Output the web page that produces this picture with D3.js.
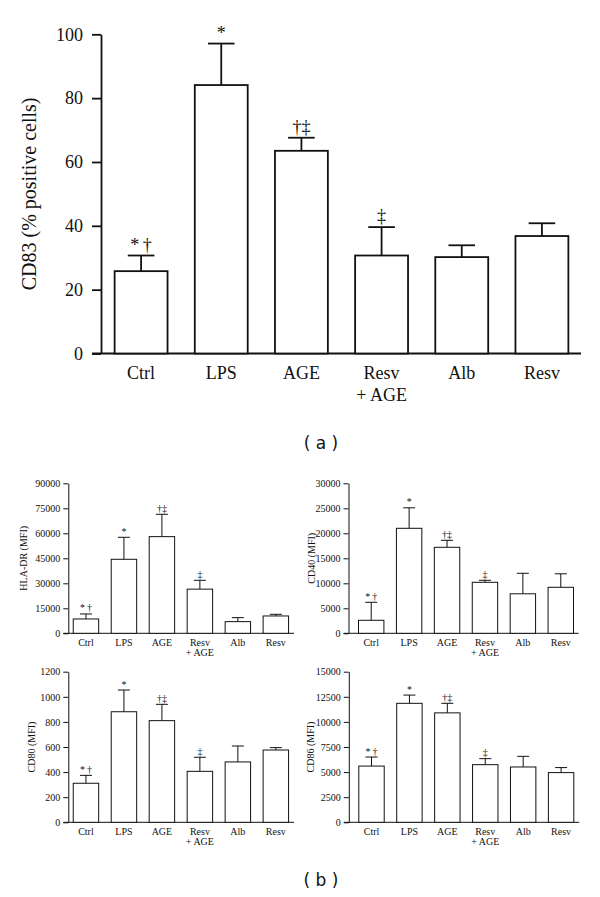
<!DOCTYPE html>
<html>
<head>
<meta charset="utf-8">
<script src="https://cdn.jsdelivr.net/npm/d3@7/dist/d3.min.js"></script>
<style>
  html, body { margin: 0; padding: 0; background: #fff; }
  svg { display: block; }
  text { fill: #111; }
  .ann { opacity: 0.999; }
</style>
</head>
<body>
<svg id="chart" width="600" height="897"></svg>
<script>
// ---------- DATA ----------
const categories = ["Ctrl", "LPS", "AGE", "Resv + AGE", "Alb", "Resv"];
const annotations = ["*\u2009\u2020", "*", "\u2020\u2021", "\u2021", "", ""];

// (a) CD83 % positive cells
const cd83Mean = [25.8, 84.1, 63.5, 30.7, 30.2, 36.8];
const cd83Sd   = [4.9, 13.0, 4.1, 8.9, 3.7, 4.0];
const cd83Ticks = [0, 20, 40, 60, 80, 100];

// (b) MFI panels
const hlaMean = [8600, 44400, 58000, 26500, 7000, 10400];
const hlaSd   = [3000, 13200, 13400, 5300, 2400, 1000];
const hlaTicks = [0, 15000, 30000, 45000, 60000, 75000, 90000];

const cd40Mean = [2600, 21000, 17200, 10200, 7900, 9200];
const cd40Sd   = [3600, 4100, 1400, 400, 4100, 2700];
const cd40Ticks = [0, 5000, 10000, 15000, 20000, 25000, 30000];

const cd80Mean = [311, 881, 810, 406, 481, 576];
const cd80Sd   = [63, 173, 130, 112, 127, 19];
const cd80Ticks = [0, 200, 400, 600, 800, 1000, 1200];

const cd86Mean = [5600, 11850, 10900, 5740, 5510, 4950];
const cd86Sd   = [900, 820, 950, 600, 1060, 500];
const cd86Ticks = [0, 2500, 5000, 7500, 10000, 12500, 15000];

const SERIF = "'Liberation Serif', 'Times New Roman', serif";
const SANS = "'DejaVu Sans', sans-serif";

const svg = d3.select("#chart");

// generic bar panel drawer
function drawPanel(cfg) {
  const g = svg.append("g");
  const y = d3.scaleLinear().domain([0, cfg.ticks[cfg.ticks.length - 1]]).range([cfg.y0, cfg.yTop]);
  const x = d3.scaleBand().domain(categories).range(cfg.bandRange)
    .paddingInner(cfg.padIn).paddingOuter(cfg.padOut);
  const data = categories.map((c, i) => ({ c, m: cfg.mean[i], s: cfg.sd[i], a: annotations[i] }));

  // y axis
  const ax = g.append("g").attr("transform", `translate(${cfg.axisX},0)`)
    .call(d3.axisLeft(y).tickValues(cfg.ticks).tickSize(cfg.tickSize).tickSizeOuter(0)
      .tickPadding(cfg.tickPad).tickFormat(d3.format("d")));
  ax.selectAll("path, line").attr("stroke", "#111").attr("stroke-width", cfg.sw);
  ax.selectAll("text").attr("font-family", SERIF).attr("font-size", cfg.fs).attr("fill", "#111");

  // baseline
  g.append("line").attr("x1", cfg.baseStart).attr("x2", cfg.baseEnd)
    .attr("y1", y(0)).attr("y2", y(0)).attr("stroke", "#111").attr("stroke-width", cfg.sw);

  // error bars (drawn first so bar top covers)
  g.selectAll(".ev").data(data).join("line")
    .attr("x1", d => x(d.c) + x.bandwidth() / 2).attr("x2", d => x(d.c) + x.bandwidth() / 2)
    .attr("y1", d => y(d.m)).attr("y2", d => y(d.m + d.s))
    .attr("stroke", "#111").attr("stroke-width", cfg.sw);
  g.selectAll(".ec").data(data).join("line")
    .attr("x1", d => x(d.c) + x.bandwidth() / 2 - cfg.cap).attr("x2", d => x(d.c) + x.bandwidth() / 2 + cfg.cap)
    .attr("y1", d => y(d.m + d.s)).attr("y2", d => y(d.m + d.s))
    .attr("stroke", "#111").attr("stroke-width", cfg.sw);

  // bars
  g.selectAll(".bar").data(data).join("rect")
    .attr("x", d => x(d.c)).attr("width", x.bandwidth())
    .attr("y", d => y(d.m)).attr("height", d => y(0) - y(d.m))
    .attr("fill", "#fff").attr("stroke", "#111").attr("stroke-width", cfg.sw);

  // significance marks
  g.selectAll(".ann").data(data).join("text")
    .attr("class", "ann")
    .attr("x", d => x(d.c) + x.bandwidth() / 2)
    .attr("y", d => y(d.m + d.s) - cfg.annGap)
    .attr("text-anchor", "middle").attr("font-family", SERIF).attr("font-size", cfg.annFs)
    .attr("fill", "#111")
    .text(d => d.a);

  // category labels
  data.forEach(d => {
    const lines = d.c.split(" + ");
    lines.forEach((ln, k) => {
      g.append("text").attr("text-anchor", "middle")
        .attr("font-family", SERIF).attr("font-size", cfg.fs)
        .attr("x", x(d.c) + x.bandwidth() / 2)
        .attr("y", y(0) + cfg.catDy + k * cfg.catLine)
        .text(k === 0 ? ln : "+ " + ln);
    });
  });

  // y label
  g.append("text")
    .attr("transform", `translate(${cfg.labelX},${(cfg.y0 + cfg.yTop) / 2}) rotate(-90)`)
    .attr("text-anchor", "middle").attr("font-family", SERIF).attr("font-size", cfg.labelFs)
    .text(cfg.label);
}

// (a)
drawPanel({
  mean: cd83Mean, sd: cd83Sd, ticks: cd83Ticks, label: "CD83 (% positive cells)",
  y0: 353.5, yTop: 34.3, axisX: 101, bandRange: [101, 582], padIn: 0.34, padOut: 0.17,
  baseStart: 92, baseEnd: 581, tickSize: 9, tickPad: 9, sw: 1.8, fs: 18, cap: 13.3,
  annGap: 5, annFs: 18, catDy: 25, catLine: 22, labelX: 36, labelFs: 20
});

// (b) panels
const smallBase = { padIn: 0.33, tickSize: 5, tickPad: 3, sw: 1, fs: 10, cap: 6, annGap: 2.5, annFs: 10,
  catDy: 13, catLine: 9.6, labelFs: 10 };

drawPanel(Object.assign({}, smallBase, {
  mean: hlaMean, sd: hlaSd, ticks: hlaTicks, label: "HLA-DR (MFI)",
  y0: 633.3, yTop: 483.3, axisX: 68.3, bandRange: [68.3, 293.5], padOut: 0.13,
  baseStart: 63.3, baseEnd: 294, labelX: 26.5
}));
drawPanel(Object.assign({}, smallBase, {
  mean: cd40Mean, sd: cd40Sd, ticks: cd40Ticks, label: "CD40 (MFI)",
  y0: 633.3, yTop: 483.3, axisX: 348.5, bandRange: [348.5, 583.5], padOut: 0.264,
  baseStart: 343.5, baseEnd: 578.5, labelX: 314.5
}));
drawPanel(Object.assign({}, smallBase, {
  mean: cd80Mean, sd: cd80Sd, ticks: cd80Ticks, label: "CD80 (MFI)",
  y0: 822.3, yTop: 671.7, axisX: 68.3, bandRange: [68.3, 293.5], padOut: 0.13,
  baseStart: 63.3, baseEnd: 294, labelX: 34.5
}));
drawPanel(Object.assign({}, smallBase, {
  mean: cd86Mean, sd: cd86Sd, ticks: cd86Ticks, label: "CD86 (MFI)",
  y0: 822.3, yTop: 671.7, axisX: 348.8, bandRange: [348.8, 583.8], padOut: 0.264,
  baseStart: 343.8, baseEnd: 579.3, labelX: 314
}));

// panel captions
svg.append("text").attr("x", 321).attr("y", 448.5).attr("text-anchor", "middle")
  .attr("font-family", SANS).attr("font-size", 17).text("( a )");
svg.append("text").attr("x", 321).attr("y", 886).attr("text-anchor", "middle")
  .attr("font-family", SANS).attr("font-size", 17).text("( b )");
</script>
</body>
</html>
